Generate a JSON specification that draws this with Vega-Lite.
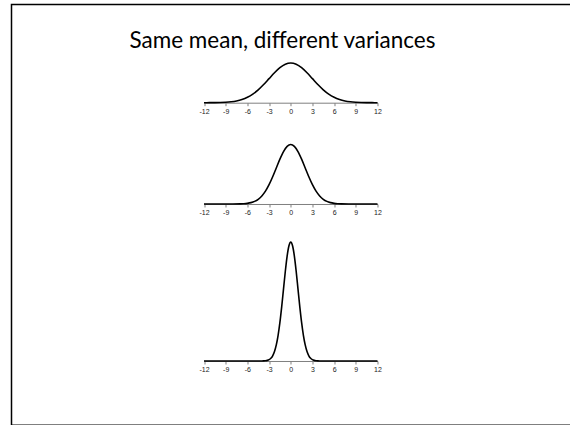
{
  "$schema": "https://vega.github.io/schema/vega-lite/v6.json",
  "autosize": {"type": "none"},
  "padding": {"left": 11.5, "top": 4.5, "right": 0, "bottom": 0},
  "width": 559.5,
  "height": 420.8,
  "background": "#ffffff",
  "title": {
    "text": "Same mean, different variances",
    "font": "Lato",
    "fontSize": 22.5,
    "fontWeight": "normal",
    "color": "#000000",
    "anchor": "start",
    "frame": "group",
    "baseline": "alphabetic",
    "offset": -66,
    "dx": 118
  },
  "config": {
    "view": {"stroke": "#000000", "strokeWidth": 1.5},
    "axis": {
      "grid": false,
      "title": null,
      "domainColor": "#808080",
      "domainWidth": 1,
      "tickColor": "#808080",
      "tickSize": 3,
      "labelFont": "Liberation Sans",
      "labelFontSize": 7,
      "labelColor": "#222222",
      "labelPadding": 2,
      "labelFlush": false,
      "labelOverlap": false,
      "labelExpr": "replace(datum.label, '\u2212', '-')"
    },
    "line": {"color": "#000000", "strokeWidth": 1.6, "interpolate": "monotone"}
  },
  "datasets": {
    "sd3": [
      {"x": -12, "density": 0.0000446}, {"x": -11.25, "density": 0.000118}, {"x": -10.5, "density": 0.000291},
      {"x": -9.75, "density": 0.000676}, {"x": -9, "density": 0.001477}, {"x": -8.25, "density": 0.003031},
      {"x": -7.5, "density": 0.005843}, {"x": -6.75, "density": 0.01058}, {"x": -6, "density": 0.017997},
      {"x": -5.25, "density": 0.028759}, {"x": -4.5, "density": 0.043173}, {"x": -3.75, "density": 0.060883},
      {"x": -3, "density": 0.080657}, {"x": -2.25, "density": 0.100379}, {"x": -1.5, "density": 0.117355},
      {"x": -0.75, "density": 0.128889}, {"x": 0, "density": 0.132981}, {"x": 0.75, "density": 0.128889},
      {"x": 1.5, "density": 0.117355}, {"x": 2.25, "density": 0.100379}, {"x": 3, "density": 0.080657},
      {"x": 3.75, "density": 0.060883}, {"x": 4.5, "density": 0.043173}, {"x": 5.25, "density": 0.028759},
      {"x": 6, "density": 0.017997}, {"x": 6.75, "density": 0.01058}, {"x": 7.5, "density": 0.005843},
      {"x": 8.25, "density": 0.003031}, {"x": 9, "density": 0.001477}, {"x": 9.75, "density": 0.000676},
      {"x": 10.5, "density": 0.000291}, {"x": 11.25, "density": 0.000118}, {"x": 12, "density": 0.0000446}
    ],
    "sd2": [
      {"x": -12, "density": 0}, {"x": -10, "density": 0.000001}, {"x": -8, "density": 0.000067},
      {"x": -7, "density": 0.000437}, {"x": -6.5, "density": 0.001015}, {"x": -6, "density": 0.002216},
      {"x": -5.5, "density": 0.004547}, {"x": -5, "density": 0.008764}, {"x": -4.5, "density": 0.01587},
      {"x": -4, "density": 0.026995}, {"x": -3.5, "density": 0.043139}, {"x": -3, "density": 0.064759},
      {"x": -2.5, "density": 0.091325}, {"x": -2, "density": 0.120985}, {"x": -1.5, "density": 0.150569},
      {"x": -1, "density": 0.176033}, {"x": -0.5, "density": 0.193334}, {"x": 0, "density": 0.199471},
      {"x": 0.5, "density": 0.193334}, {"x": 1, "density": 0.176033}, {"x": 1.5, "density": 0.150569},
      {"x": 2, "density": 0.120985}, {"x": 2.5, "density": 0.091325}, {"x": 3, "density": 0.064759},
      {"x": 3.5, "density": 0.043139}, {"x": 4, "density": 0.026995}, {"x": 4.5, "density": 0.01587},
      {"x": 5, "density": 0.008764}, {"x": 5.5, "density": 0.004547}, {"x": 6, "density": 0.002216},
      {"x": 6.5, "density": 0.001015}, {"x": 7, "density": 0.000437}, {"x": 8, "density": 0.000067},
      {"x": 10, "density": 0.000001}, {"x": 12, "density": 0}
    ],
    "sd1": [
      {"x": -12, "density": 0}, {"x": -8, "density": 0}, {"x": -5, "density": 0.0000015},
      {"x": -4.5, "density": 0.000016}, {"x": -4, "density": 0.000134}, {"x": -3.75, "density": 0.000353},
      {"x": -3.5, "density": 0.000873}, {"x": -3.25, "density": 0.002029}, {"x": -3, "density": 0.004432},
      {"x": -2.75, "density": 0.009094}, {"x": -2.5, "density": 0.017528}, {"x": -2.25, "density": 0.03174},
      {"x": -2, "density": 0.053991}, {"x": -1.75, "density": 0.086277}, {"x": -1.5, "density": 0.129518},
      {"x": -1.25, "density": 0.182649}, {"x": -1, "density": 0.241971}, {"x": -0.75, "density": 0.301137},
      {"x": -0.5, "density": 0.352065}, {"x": -0.25, "density": 0.386668}, {"x": 0, "density": 0.398942},
      {"x": 0.25, "density": 0.386668}, {"x": 0.5, "density": 0.352065}, {"x": 0.75, "density": 0.301137},
      {"x": 1, "density": 0.241971}, {"x": 1.25, "density": 0.182649}, {"x": 1.5, "density": 0.129518},
      {"x": 1.75, "density": 0.086277}, {"x": 2, "density": 0.053991}, {"x": 2.25, "density": 0.03174},
      {"x": 2.5, "density": 0.017528}, {"x": 2.75, "density": 0.009094}, {"x": 3, "density": 0.004432},
      {"x": 3.25, "density": 0.002029}, {"x": 3.5, "density": 0.000873}, {"x": 3.75, "density": 0.000353},
      {"x": 4, "density": 0.000134}, {"x": 4.5, "density": 0.000016}, {"x": 5, "density": 0.0000015},
      {"x": 8, "density": 0}, {"x": 12, "density": 0}
    ]
  },
  "layer": [
    {
      "data": {"name": "sd3"},
      "mark": {"type": "line"},
      "encoding": {
        "x": {
          "field": "x", "type": "quantitative",
          "scale": {"domain": [-12, 12], "range": [192.5, 366], "nice": false, "zero": false},
          "axis": {"orient": "bottom", "offset": -322.6, "values": [-12, -9, -6, -3, 0, 3, 6, 9, 12]}
        },
        "y": {
          "field": "density", "type": "quantitative",
          "scale": {"domain": [0, 0.4], "range": [98.2, -21], "nice": false},
          "axis": null
        }
      }
    },
    {
      "data": {"name": "sd2"},
      "mark": {"type": "line"},
      "encoding": {
        "x": {
          "field": "x", "type": "quantitative",
          "scale": {"domain": [-12, 12], "range": [192.5, 366], "nice": false, "zero": false},
          "axis": {"orient": "bottom", "offset": -221.3, "values": [-12, -9, -6, -3, 0, 3, 6, 9, 12]}
        },
        "y": {
          "field": "density", "type": "quantitative",
          "scale": {"domain": [0, 0.4], "range": [199.5, 80.3], "nice": false},
          "axis": null
        }
      }
    },
    {
      "data": {"name": "sd1"},
      "mark": {"type": "line"},
      "encoding": {
        "x": {
          "field": "x", "type": "quantitative",
          "scale": {"domain": [-12, 12], "range": [192.5, 366], "nice": false, "zero": false},
          "axis": {"orient": "bottom", "offset": -64.3, "values": [-12, -9, -6, -3, 0, 3, 6, 9, 12]}
        },
        "y": {
          "field": "density", "type": "quantitative",
          "scale": {"domain": [0, 0.4], "range": [356.5, 237.3], "nice": false},
          "axis": null
        }
      }
    }
  ],
  "resolve": {
    "scale": {"x": "independent", "y": "independent"},
    "axis": {"x": "independent", "y": "independent"}
  }
}
